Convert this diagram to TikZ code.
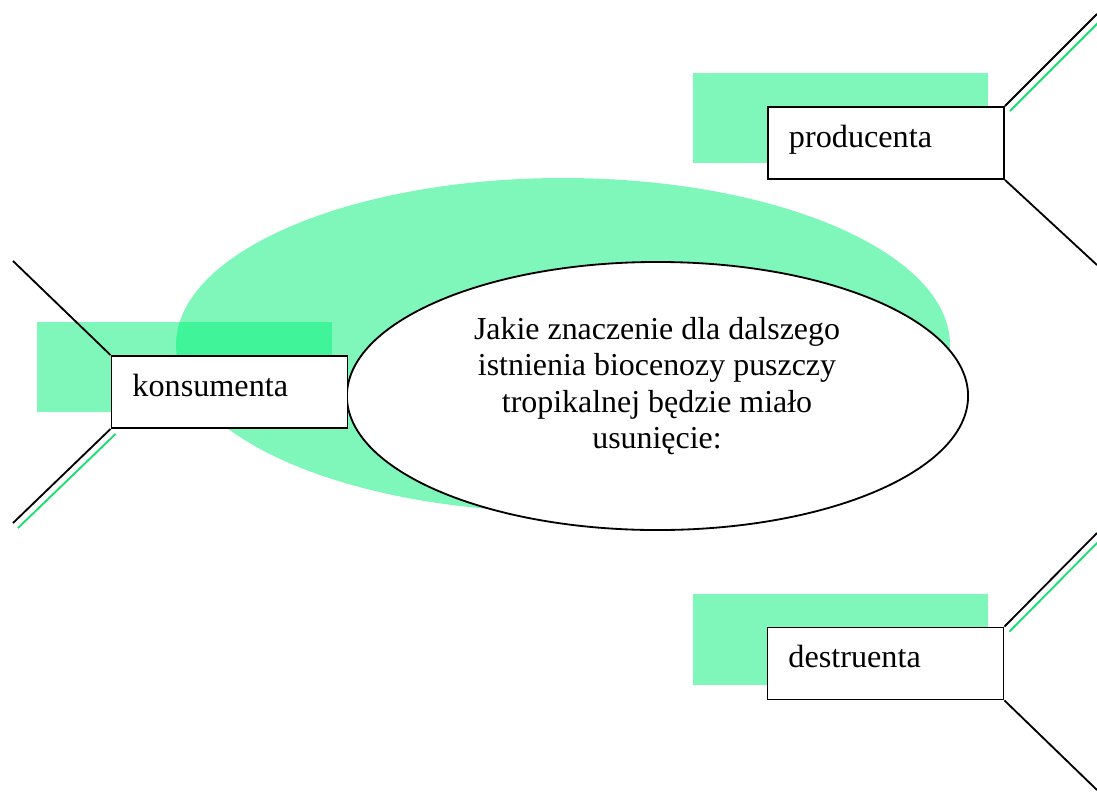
\documentclass[tikz,border=0pt]{standalone}
\usepackage{fontspec}
\setmainfont{Liberation Serif}
\usetikzlibrary{shapes.geometric}
\definecolor{leaf}{RGB}{0,240,120}
\definecolor{leafline}{RGB}{20,225,110}

\begin{document}
\begin{tikzpicture}[x=0.025cm, y=-0.025cm,
		bg/.style={fill=leaf, fill opacity=0.5},
		lab/.style={draw, fill=white, line width=1.3pt, minimum width=5.9cm, minimum height=1.8cm,
			text width=4.85cm, inner xsep=0.525cm, align=left, text height=0.86em, text depth=0.25em,
			font=\fontsize{22.9}{26}\selectfont},
		link/.style={line width=1.3pt},
		glink/.style={line width=1.3pt, leafline}]
				\useasboundingbox (0,0) rectangle (1097,797);
				% green backgrounds
				\fill[bg] (563,345) ellipse [x radius=387, y radius=167];
				\fill[bg] (693,73) rectangle (988,163);
				\fill[bg] (37,322) rectangle (332,412);
				\fill[bg] (693,594) rectangle (988,685);
				
				% question
				\node[ellipse, draw, fill=white, line width=1.3pt, inner sep=0pt, minimum width=15.525cm, minimum height=6.7cm] (Q) at (657.5,396) {};
				\node[align=center, font=\fontsize{22.7}{25.8}\selectfont] (Qt) at (657,386) {Jakie znaczenie dla dalszego\\ istnienia biocenozy puszczy\\ tropikalnej będzie miało\\ usunięcie:};
				
				% answers
				\node[lab] (P) at (886,143) {producenta};
				\node[lab] (K) at (229.5,392) {konsumenta};
				\node[lab] (D) at (885.5,663.5) {destruenta};
				
				\coordinate (pa) at (1097,14);
				\coordinate (pb) at (1097,265);
				\coordinate (ka) at (13,261);
				\coordinate (kb) at (13,523);
				\coordinate (da) at (1097,533);
				\coordinate (db) at (1097,790);
				
				\draw[glink] ([shift={(5,5)}]P.north east) -- ([shift={(5,5)}]pa);
				\draw[glink] ([shift={(5,5)}]K.south west) -- ([shift={(5,5)}]kb);
				\draw[glink] ([shift={(5,5)}]D.north east) -- ([shift={(5,5)}]da);
				
				\draw[link] (P.north east) -- (pa);
				\draw[link] (P.south east) -- (pb);
				\draw[link] (K.north west) -- (ka);
				\draw[link] (K.south west) -- (kb);
				\draw[link] (D.north east) -- (da);
				\draw[link] (D.south east) -- (db);
		\end{tikzpicture}
\end{document}
